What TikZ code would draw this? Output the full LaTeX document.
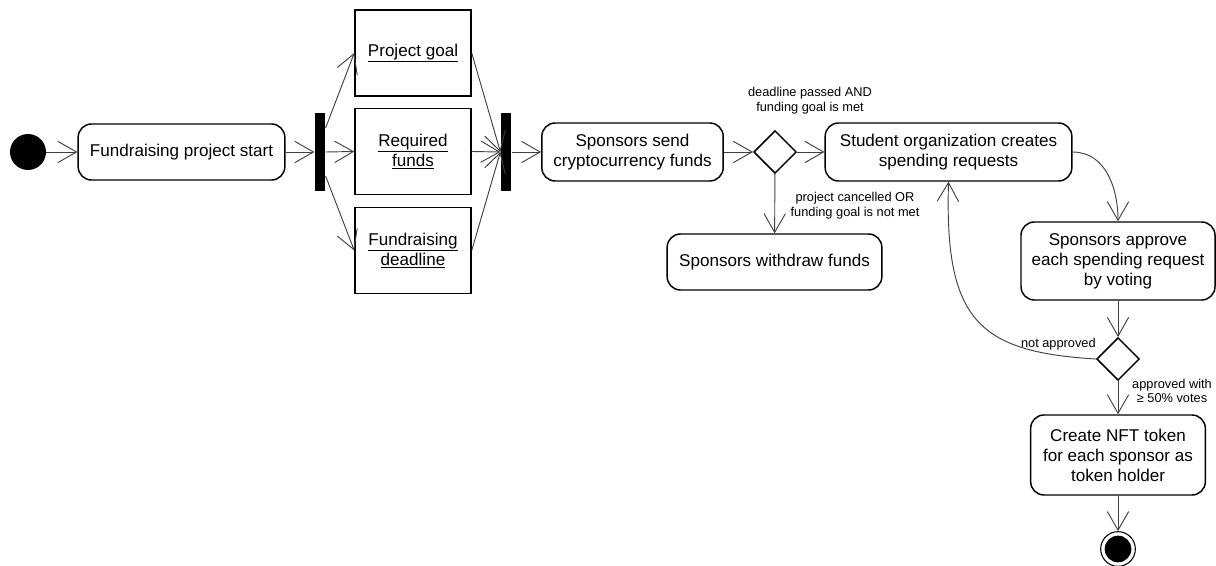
\documentclass[tikz,border=0pt]{standalone}
\usepackage{fontspec}
\setmainfont{Liberation Sans}
\usepackage{tikz}
\usetikzlibrary{shapes.geometric, arrows.meta}

\tikzset{
  action/.style={draw, line width=1.1pt, rounded corners=10pt, align=center, inner sep=2pt, font=\fontsize{12.8}{15}\selectfont},
  object/.style={draw, line width=1.1pt, align=center, minimum width=87pt, minimum height=64.5pt, font=\fontsize{12.8}{15}\selectfont},
  syncbar/.style={fill=black, minimum width=8pt, minimum height=58.5pt, inner sep=0pt},
  decision/.style={diamond, draw, line width=1.1pt, minimum width=32pt, minimum height=32pt, inner sep=0pt},
  flow/.style={-{Straight Barb[length=14pt,width=16pt]}, line width=0.7pt, black!75},
  guard/.style={font=\fontsize{9.6}{11}\selectfont, align=center, inner sep=0pt},
}

\begin{document}
\begin{tikzpicture}[x=0.75pt, y=-0.75pt]
  \useasboundingbox (0,0) rectangle (1216,566);

  % Start and project setup
  \node[circle, fill=black, minimum size=27pt, inner sep=0pt] (start) at (28,152) {};
  \node[action, minimum width=155pt, minimum height=42pt] (projstart) at (181.5,152) {Fundraising project start};
  \node[syncbar] (fork) at (320,152) {};

  % Project parameters
  \node[object] (goal) at (413,53) {\underline{Project goal}};
  \node[object] (funds) at (413,151.5) {\underline{Required}\\\underline{funds}};
  \node[object] (deadline) at (413,250.5) {\underline{Fundraising}\\\underline{deadline}};
  \node[syncbar] (join) at (506,152) {};

  % Funding phase
  \node[action, minimum width=136pt, minimum height=43.5pt] (send) at (632.5,152) {Sponsors send\\cryptocurrency funds};
  \node[decision] (check) at (775,152) {};
  \node[action, minimum width=161pt, minimum height=42pt] (withdraw) at (774.5,262) {Sponsors withdraw funds};
  \node[action, minimum width=185pt, minimum height=43.5pt] (requests) at (948.5,152) {Student organization creates\\spending requests};

  % Voting phase
  \node[action, minimum width=145.5pt, minimum height=58.5pt] (approve) at (1118,261) {Sponsors approve\\each spending request\\by voting};
  \node[decision] (vote) at (1118,359) {};
  \node[action, minimum width=131pt, minimum height=60pt] (nft) at (1118,455) {Create NFT token\\for each sponsor as\\token holder};
  \node[circle, draw, line width=0.8pt, minimum size=26pt, inner sep=0pt] (finish) at (1118,549) {};
  \node[circle, fill=black, minimum size=20pt, inner sep=0pt] (finishdot) at (finish) {};

  % Guards
  \node[guard] (metlabel) at (810,101) {deadline passed AND\\funding goal is met};
  \node[guard] (failedlabel) at (855,206) {project cancelled OR\\funding goal is not met};
  \node[guard, anchor=east] (rejectlabel) at (1096,344) {not approved};
  \node[guard] (acceptlabel) at (1172,391) {approved with\\≥ 50\% votes};

  % Flows
  \draw[flow] (start) -- (projstart);
  \draw[flow] (projstart) -- (fork);
  \draw[flow] ([yshift=18pt]fork.east) -- (goal.west);
  \draw[flow] (fork.east) -- (funds.west);
  \draw[flow] ([yshift=-18pt]fork.east) -- (deadline.west);
  \draw[flow] (goal.east) -- (join.west);
  \draw[flow] (funds.east) -- (join.west);
  \draw[flow] (deadline.east) -- (join.west);
  \draw[flow] (join) -- (send);
  \draw[flow] (send) -- (check);
  \draw[flow] (check) -- (requests);
  \draw[flow] (check) -- (withdraw);
  \draw[flow] (requests.east) .. controls +(33,0) and +(0,-33) .. (approve.north);
  \draw[flow] (approve) -- (vote);
  \draw[flow] (vote.west) .. controls +(-118,-7) and +(-4,138) .. (requests.south);
  \draw[flow] (vote) -- (nft);
  \draw[flow] (nft) -- (finish);
\end{tikzpicture}
\end{document}
